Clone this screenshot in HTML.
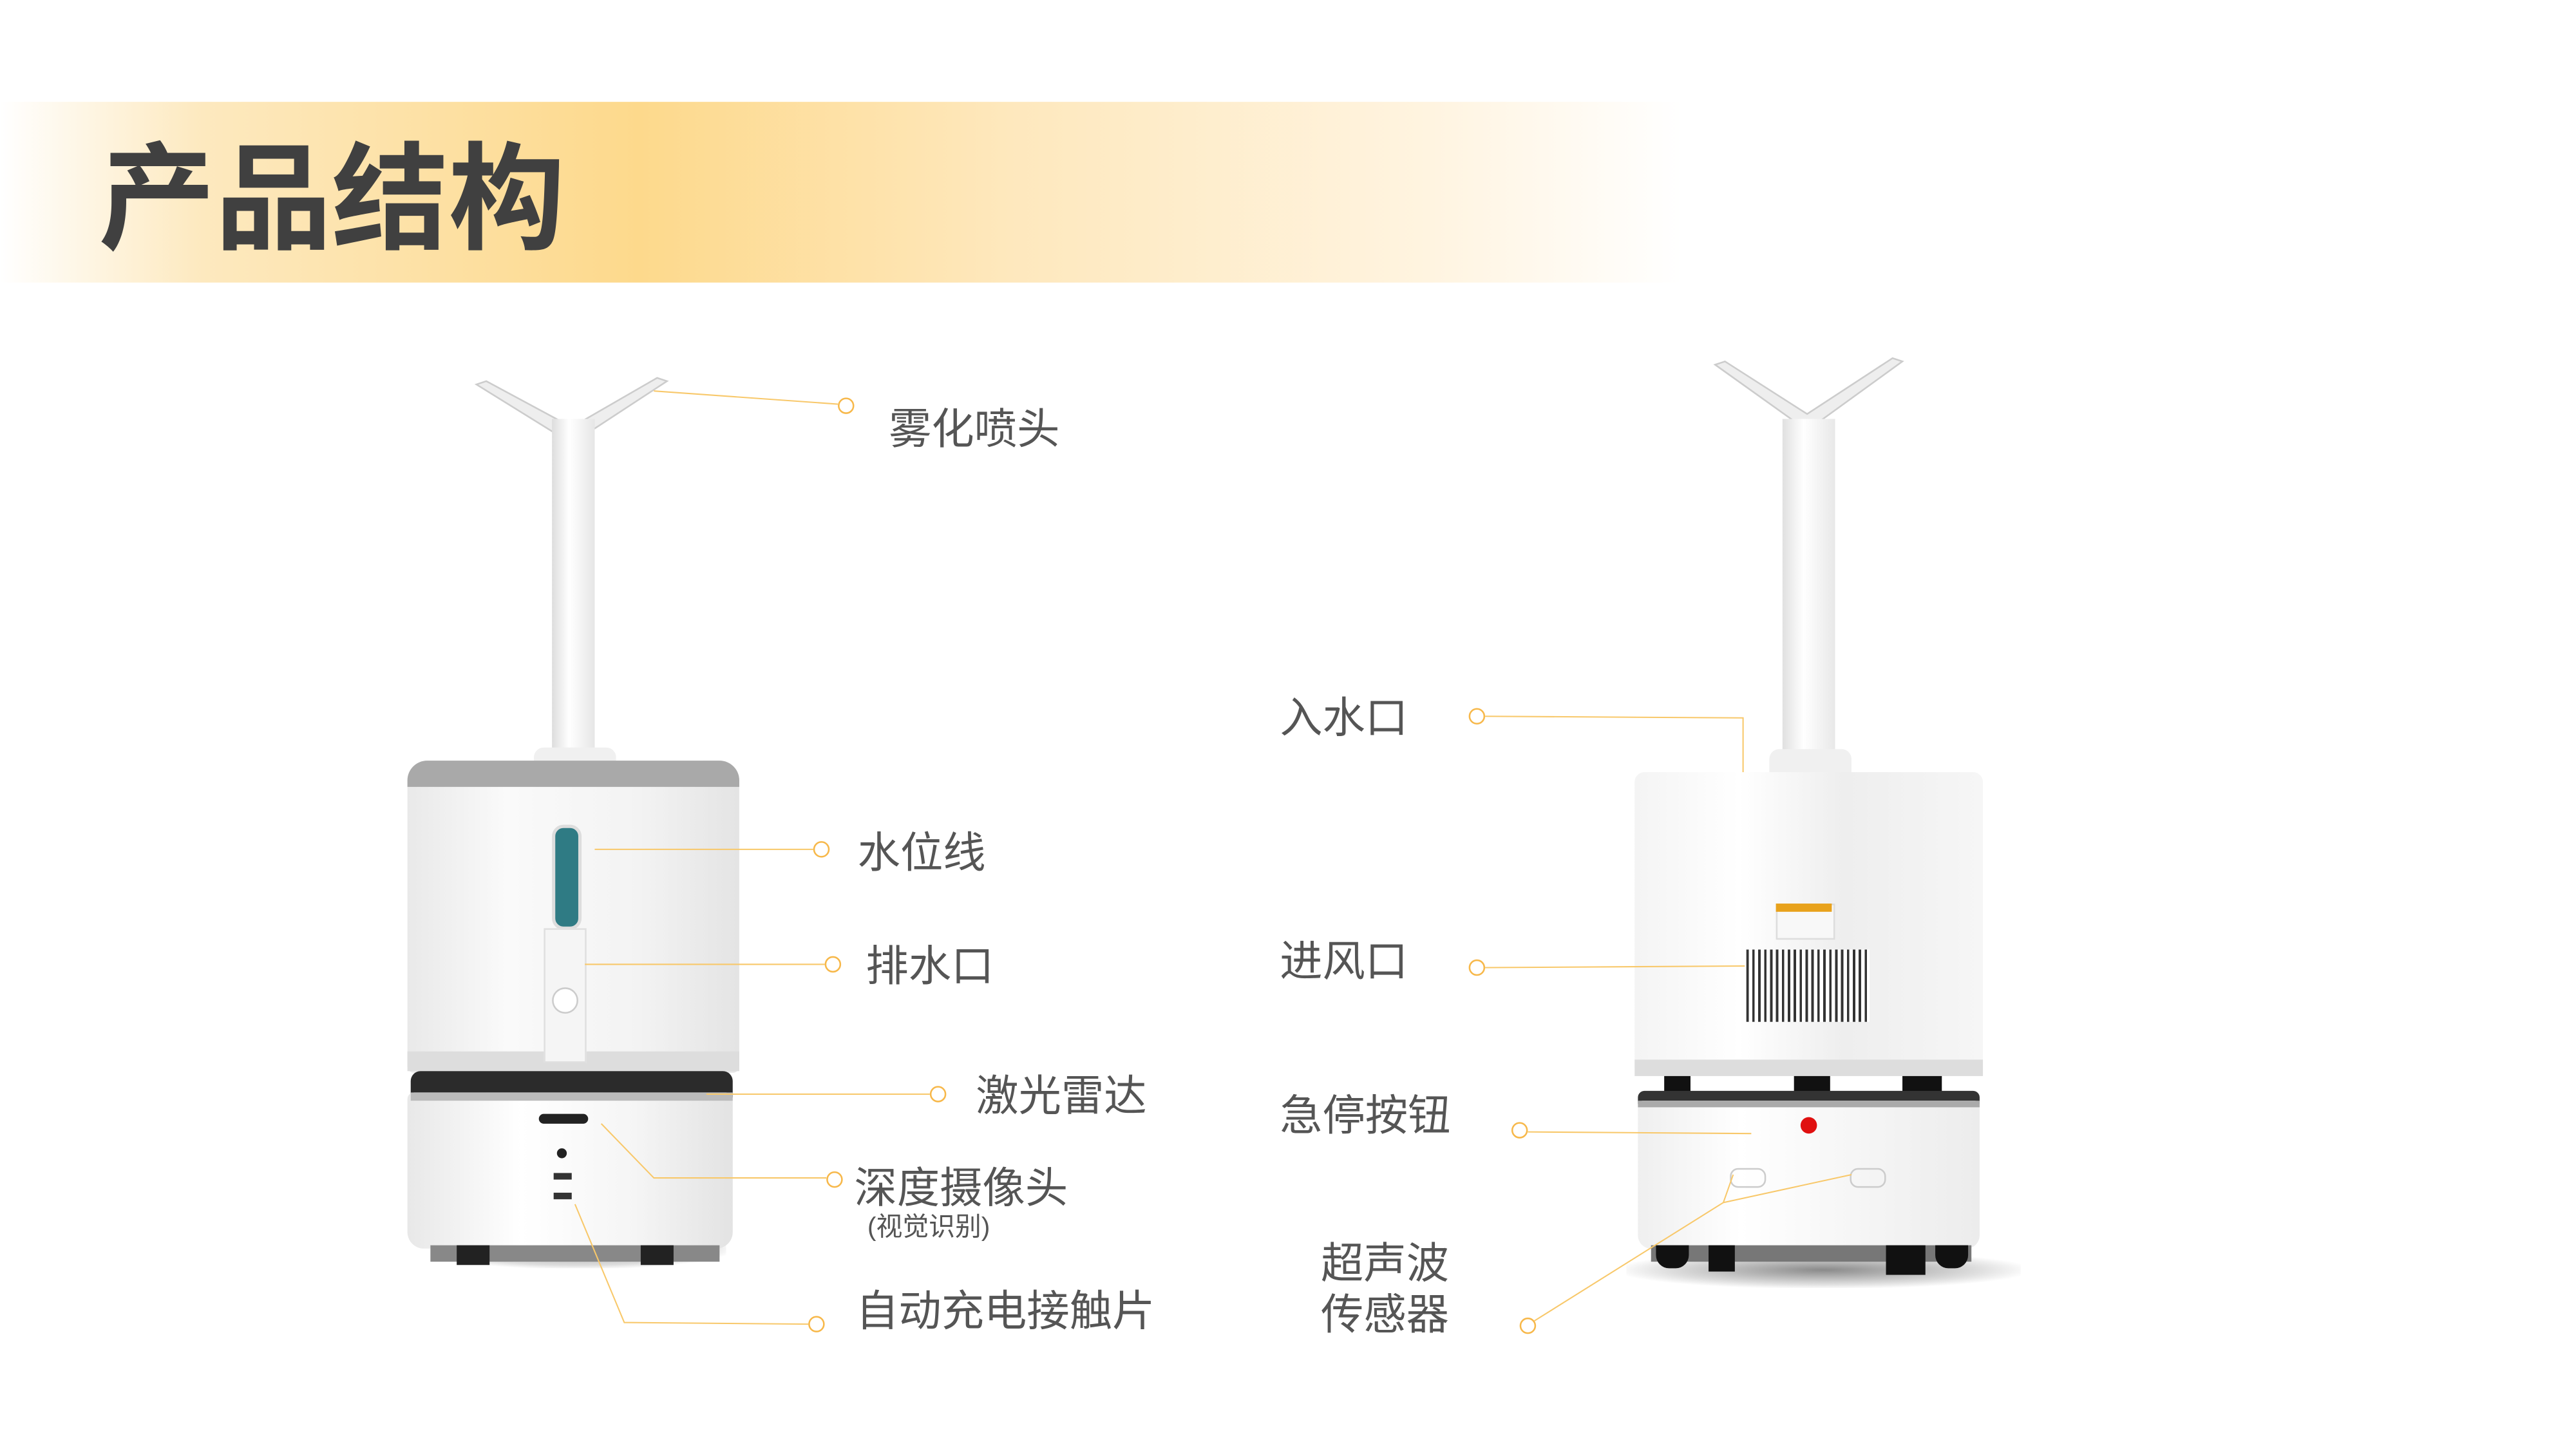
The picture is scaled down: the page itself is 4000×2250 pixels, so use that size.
<!DOCTYPE html>
<html><head><meta charset="utf-8"><style>
html,body{margin:0;padding:0;background:#fff;overflow:hidden}
#w{position:absolute;left:0;top:0;width:1568px;height:882px;transform:scale(2.551);transform-origin:0 0;font-family:"Liberation Sans","Noto Sans CJK SC",sans-serif}
.a{position:absolute}
.t{position:absolute;color:#555;font-size:26px;line-height:1;white-space:nowrap}
.c{position:absolute;width:10px;height:10px;border:1.8px solid #f7b84a;border-radius:50%;box-sizing:border-box}
</style></head><body><div id="w">
<div class="a" style="left:0;top:62px;width:1024px;height:110px;background:linear-gradient(90deg,#fff 0%,#fde9bf 12%,#fdd98c 38%,#fee8bd 60%,#fff4e0 85%,#fff 100%)"></div>
<div class="a" style="left:60px;top:81px;font-size:71px;font-weight:bold;color:#404040;font-family:'Noto Sans CJK SC',sans-serif;line-height:1">产品结构</div>

<!-- left device -->
<div class="a" style="left:262px;top:748px;width:180px;height:24px;background:radial-gradient(ellipse,#9a9a9a 0%,#ddd 60%,rgba(255,255,255,0) 75%)"></div>
<svg class="a" style="left:280px;top:222px" width="140" height="60"><path d="M10 12 L68 48 L126 10 L120 8 L68 38 L16 10Z" fill="#eee" stroke="#ccc"/></svg>
<div class="a" style="left:336px;top:255px;width:26px;height:210px;background:linear-gradient(90deg,#ddd,#fff 40%,#e6e6e6)"></div>
<div class="a" style="left:325px;top:455px;width:50px;height:14px;background:#f0f0f0;border-radius:6px 6px 0 0"></div>
<div class="a" style="left:248px;top:463px;width:202px;height:190px;border-radius:12px 12px 4px 4px;background:linear-gradient(90deg,#e9e9e9,#fafafa 30%,#f3f3f3 70%,#e4e4e4)"></div>
<div class="a" style="left:248px;top:463px;width:202px;height:16px;border-radius:12px 12px 0 0;background:#a9a9a9"></div>
<div class="a" style="left:248px;top:640px;width:202px;height:12px;background:#ddd"></div>
<div class="a" style="left:336px;top:502px;width:14px;height:60px;border-radius:7px;background:#2f7b84;border:2px solid #ddd"></div>
<div class="a" style="left:331px;top:565px;width:24px;height:80px;border:1px solid #e0e0e0;background:#f5f5f5"></div>
<div class="a" style="left:336px;top:601px;width:14px;height:14px;border-radius:50%;background:#fff;border:1px solid #ccc"></div>
<div class="a" style="left:250px;top:652px;width:196px;height:16px;background:#2b2b2b;border-radius:6px 6px 0 0"></div>
<div class="a" style="left:248px;top:665px;width:198px;height:95px;border-radius:4px 4px 10px 10px;background:linear-gradient(90deg,#e8e8e8,#fff 35%,#f5f5f5 70%,#e3e3e3)"></div>
<div class="a" style="left:250px;top:665px;width:196px;height:5px;background:#bbb"></div>
<div class="a" style="left:328px;top:678px;width:30px;height:6px;border-radius:3px;background:#222"></div>
<div class="a" style="left:339px;top:699px;width:6px;height:6px;border-radius:50%;background:#222"></div>
<div class="a" style="left:337px;top:714px;width:11px;height:4px;background:#333"></div>
<div class="a" style="left:337px;top:726px;width:11px;height:4px;background:#333"></div>
<div class="a" style="left:262px;top:758px;width:176px;height:10px;background:#888"></div>
<div class="a" style="left:278px;top:758px;width:20px;height:12px;background:#222"></div>
<div class="a" style="left:390px;top:758px;width:20px;height:12px;background:#222"></div>

<!-- right device -->
<div class="a" style="left:990px;top:762px;width:240px;height:22px;background:radial-gradient(ellipse,#8a8a8a 0%,#ddd 55%,rgba(255,255,255,0) 75%)"></div>
<svg class="a" style="left:1038px;top:212px" width="128" height="60"><path d="M6 10 L62 50 L120 8 L114 6 L62 40 L12 8Z" fill="#eee" stroke="#ccc"/></svg>
<div class="a" style="left:1085px;top:255px;width:32px;height:210px;background:linear-gradient(90deg,#e0e0e0,#fff 40%,#e8e8e8)"></div>
<div class="a" style="left:1077px;top:456px;width:50px;height:15px;background:#f0f0f0;border-radius:6px 6px 0 0"></div>
<div class="a" style="left:995px;top:470px;width:212px;height:185px;border-radius:6px;background:linear-gradient(90deg,#f4f4f4,#fff 30%,#eee 60%,#f6f6f6)"></div>
<div class="a" style="left:995px;top:645px;width:212px;height:10px;background:#ddd"></div>
<div class="a" style="left:1081px;top:550px;width:34px;height:20px;background:#f8f8f8;border:1px solid #ddd"></div>
<div class="a" style="left:1081px;top:550px;width:34px;height:5px;background:#e8a21c"></div>
<div class="a" style="left:1063px;top:578px;width:75px;height:44px;background:repeating-linear-gradient(90deg,#333 0 1.5px,#fff 1.5px 3.6px)"></div>
<div class="a" style="left:1013px;top:655px;width:16px;height:14px;background:#111"></div>
<div class="a" style="left:1092px;top:655px;width:22px;height:14px;background:#111"></div>
<div class="a" style="left:1158px;top:655px;width:24px;height:14px;background:#111"></div>
<div class="a" style="left:997px;top:664px;width:208px;height:8px;background:#333;border-radius:4px 4px 0 0"></div>
<div class="a" style="left:997px;top:670px;width:208px;height:90px;border-radius:3px 3px 8px 8px;background:linear-gradient(90deg,#efefef,#fff 30%,#f4f4f4 70%,#ececec)"></div>
<div class="a" style="left:997px;top:670px;width:208px;height:4px;background:#aaa"></div>
<div class="a" style="left:1096px;top:680px;width:10px;height:10px;border-radius:50%;background:#e01010"></div>
<div class="a" style="left:1053px;top:711px;width:20px;height:10px;border:1px solid #ccc;border-radius:5px"></div>
<div class="a" style="left:1126px;top:711px;width:20px;height:10px;border:1px solid #ccc;border-radius:5px"></div>
<div class="a" style="left:1005px;top:758px;width:195px;height:10px;background:#777"></div>
<div class="a" style="left:1008px;top:758px;width:20px;height:14px;background:#111;border-radius:0 0 8px 8px"></div>
<div class="a" style="left:1040px;top:758px;width:16px;height:16px;background:#111"></div>
<div class="a" style="left:1148px;top:758px;width:24px;height:18px;background:#111"></div>
<div class="a" style="left:1178px;top:758px;width:20px;height:14px;background:#111;border-radius:0 0 8px 8px"></div>

<!-- connector lines -->
<svg class="a" style="left:0;top:0" width="1568" height="882" fill="none" stroke="#f8c86a" stroke-width="0.8">
<path d="M398 238 L510 246"/>
<path d="M362 517 L495 517"/>
<path d="M356 587 L502 587"/>
<path d="M430 666 L566 666"/>
<path d="M366 684 L398 717 L503 717"/>
<path d="M350 733 L380 805 L492 806"/>
<path d="M904 436 L1061 437 L1061 470"/>
<path d="M904 589 L1062 588"/>
<path d="M930 689 L1066 690"/>
<path d="M934 804 L1049 732 L1055 715 M1049 732 L1127 715"/>
</svg>
<div class="c" style="left:510px;top:242px"></div>
<div class="c" style="left:495px;top:512px"></div>
<div class="c" style="left:502px;top:582px"></div>
<div class="c" style="left:566px;top:661px"></div>
<div class="c" style="left:503px;top:713px"></div>
<div class="c" style="left:492px;top:801px"></div>
<div class="c" style="left:894px;top:431px"></div>
<div class="c" style="left:894px;top:584px"></div>
<div class="c" style="left:920px;top:683px"></div>
<div class="c" style="left:925px;top:802px"></div>

<div class="t" style="left:541px;top:248px">雾化喷头</div>
<div class="t" style="left:522px;top:506px">水位线</div>
<div class="t" style="left:527px;top:575px">排水口</div>
<div class="t" style="left:594px;top:654px">激光雷达</div>
<div class="t" style="left:520px;top:710px">深度摄像头</div>
<div class="t" style="left:528px;top:740px;font-size:16px">(视觉识别)</div>
<div class="t" style="left:521px;top:785px">自动充电接触片</div>
<div class="t" style="left:779px;top:424px">入水口</div>
<div class="t" style="left:779px;top:572px">进风口</div>
<div class="t" style="left:779px;top:666px">急停按钮</div>
<div class="t" style="left:804px;top:756px">超声波</div>
<div class="t" style="left:804px;top:787px">传感器</div>
</div></body></html>
